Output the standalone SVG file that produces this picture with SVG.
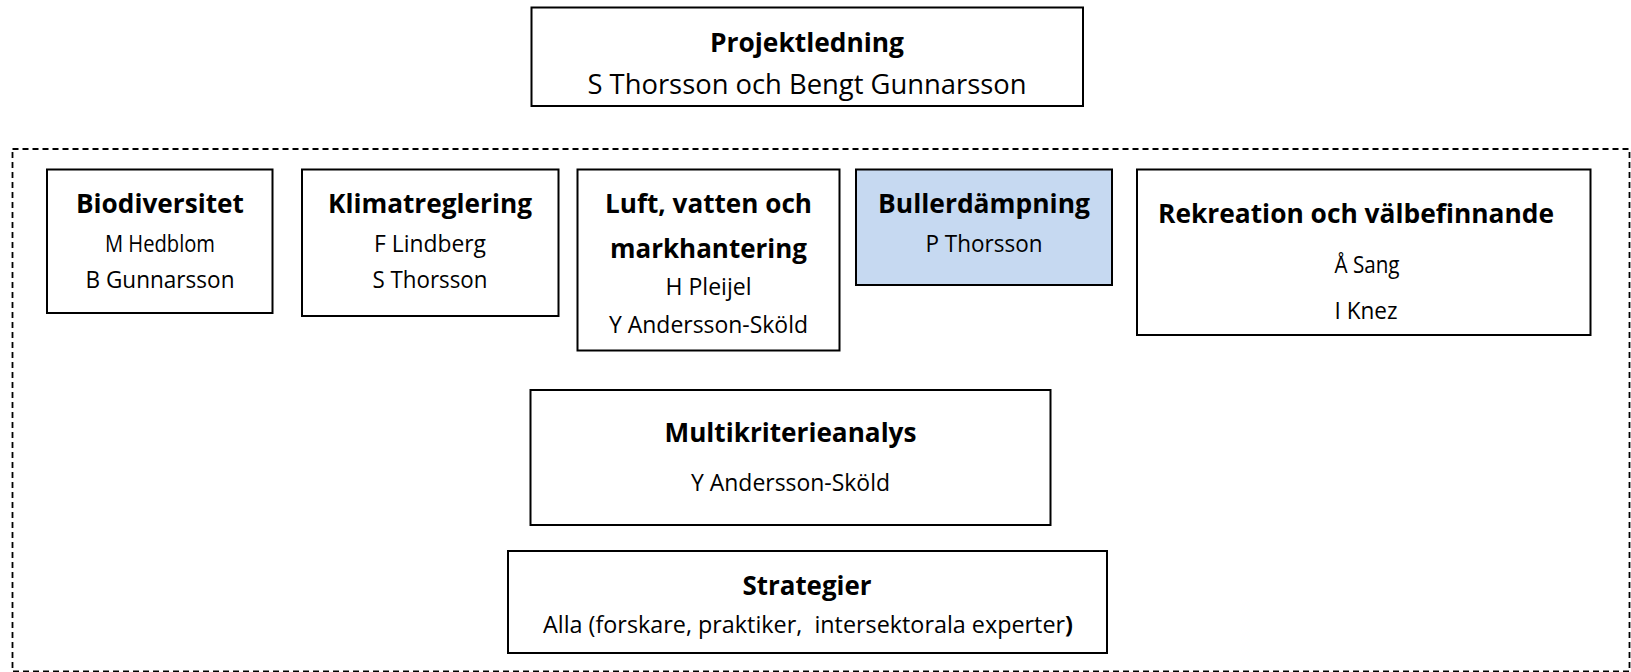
<svg xmlns="http://www.w3.org/2000/svg" width="1631" height="672" viewBox="0 0 1631 672">
<style>
.box{fill:#fff;stroke:#000;stroke-width:2}
.blue{fill:#C6D9F1}
.t{font-family:"Open Sans","Liberation Sans",sans-serif;font-weight:700;font-size:27px;fill:#000;text-anchor:middle}
.n{font-family:"Open Sans","Liberation Sans",sans-serif;font-size:23px;fill:#000;text-anchor:middle}
.s{font-family:"Open Sans","Liberation Sans",sans-serif;font-size:27px;fill:#000;text-anchor:middle}
.dash{fill:none;stroke:#000;stroke-width:1.8;stroke-dasharray:6 4}
</style>
<rect width="1631" height="672" fill="#fff"/>
<g id="connectors"></g>
<g id="group-frame"><rect class="dash" x="12.5" y="149" width="1617" height="522.5"/></g>
<g id="projektledning">
<rect class="box" x="531.5" y="7.5" width="551.5" height="98.5"/>
<text class="t" x="807" y="52" textLength="194" lengthAdjust="spacingAndGlyphs">Projektledning</text>
<text class="s" x="807" y="93.5" textLength="439" lengthAdjust="spacingAndGlyphs">S Thorsson och Bengt Gunnarsson</text>
</g>
<g id="biodiversitet">
<rect class="box" x="47" y="169.5" width="225.5" height="143.5"/>
<text class="t" x="160" y="213" textLength="168" lengthAdjust="spacingAndGlyphs">Biodiversitet</text>
<text class="n" x="160" y="252" textLength="110" lengthAdjust="spacingAndGlyphs">M Hedblom</text>
<text class="n" x="160" y="288" textLength="149" lengthAdjust="spacingAndGlyphs">B Gunnarsson</text>
</g>
<g id="klimatreglering">
<rect class="box" x="302" y="169.5" width="256.5" height="146.5"/>
<text class="t" x="430" y="213" textLength="204" lengthAdjust="spacingAndGlyphs">Klimatreglering</text>
<text class="n" x="430" y="252" textLength="112" lengthAdjust="spacingAndGlyphs">F Lindberg</text>
<text class="n" x="430" y="288" textLength="115" lengthAdjust="spacingAndGlyphs">S Thorsson</text>
</g>
<g id="luft">
<rect class="box" x="577.5" y="169.5" width="262" height="181"/>
<text class="t" x="708.5" y="213" textLength="207" lengthAdjust="spacingAndGlyphs">Luft, vatten och</text>
<text class="t" x="708.5" y="258" textLength="197" lengthAdjust="spacingAndGlyphs">markhantering</text>
<text class="n" x="708.5" y="295" textLength="86" lengthAdjust="spacingAndGlyphs">H Pleijel</text>
<text class="n" x="708.5" y="333" textLength="199" lengthAdjust="spacingAndGlyphs">Y Andersson-Sköld</text>
</g>
<g id="bullerdampning">
<rect class="box blue" x="856" y="169.5" width="256" height="115.5"/>
<text class="t" x="984" y="213" textLength="212" lengthAdjust="spacingAndGlyphs">Bullerdämpning</text>
<text class="n" x="984" y="252" textLength="117" lengthAdjust="spacingAndGlyphs">P Thorsson</text>
</g>
<g id="rekreation">
<rect class="box" x="1137" y="169.5" width="453.5" height="165.5"/>
<text class="t" x="1356" y="223" textLength="396" lengthAdjust="spacingAndGlyphs">Rekreation och välbefinnande</text>
<text class="n" x="1367" y="272.5" textLength="65" lengthAdjust="spacingAndGlyphs">Å Sang</text>
<text class="n" x="1366" y="319" textLength="63" lengthAdjust="spacingAndGlyphs">I Knez</text>
</g>
<g id="multikriterieanalys">
<rect class="box" x="530.5" y="390" width="520" height="135"/>
<text class="t" x="790.5" y="442" textLength="252" lengthAdjust="spacingAndGlyphs">Multikriterieanalys</text>
<text class="n" x="790.5" y="491" textLength="199" lengthAdjust="spacingAndGlyphs">Y Andersson-Sköld</text>
</g>
<g id="strategier">
<rect class="box" x="508" y="551" width="599" height="102"/>
<text class="t" x="807" y="595" textLength="129" lengthAdjust="spacingAndGlyphs">Strategier</text>
<text class="n" x="808" y="632.5" textLength="530" lengthAdjust="spacingAndGlyphs" xml:space="preserve">Alla (forskare, praktiker,  intersektorala experter<tspan font-weight="700">)</tspan></text>
</g>
</svg>
